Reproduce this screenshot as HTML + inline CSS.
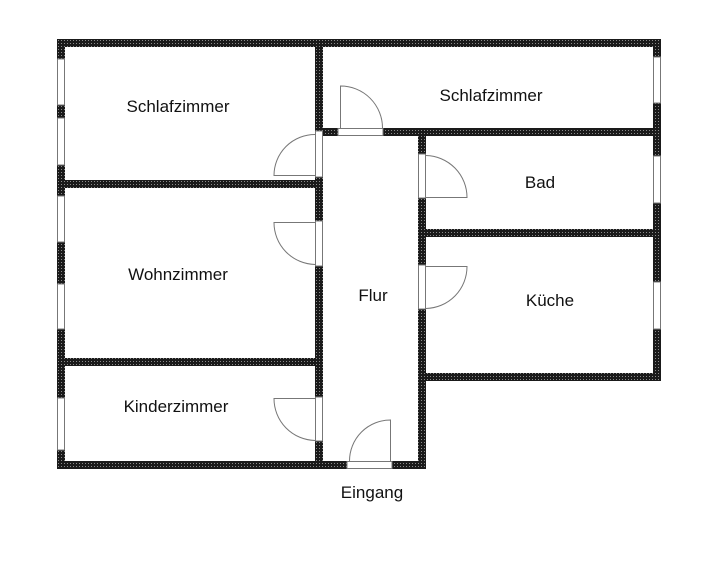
<!DOCTYPE html>
<html><head><meta charset="utf-8"><style>
html,body{margin:0;padding:0;background:#fff;}
svg{display:block;}
text{font-family:"Liberation Sans","DejaVu Sans",sans-serif;font-size:17px;fill:#111;text-anchor:middle;}
</style></head><body>
<svg width="707" height="584" viewBox="0 0 707 584" xmlns="http://www.w3.org/2000/svg">
<defs>
<pattern id="hp" width="3" height="3" patternUnits="userSpaceOnUse">
<rect width="3" height="3" fill="#1a1a1a"/>
<rect x="1" y="1" width="1" height="1" fill="#8a8a8a"/>
</pattern>
</defs>
<g fill="url(#hp)">
<rect x="57" y="39" width="604" height="8"/>
<rect x="57" y="39" width="8" height="430"/>
<rect x="57" y="461" width="369" height="8"/>
<rect x="653" y="39" width="8" height="342"/>
<rect x="418" y="373" width="243" height="8"/>
<rect x="418" y="128" width="8" height="341"/>
<rect x="315" y="39" width="8" height="430"/>
<rect x="315" y="128" width="346" height="8"/>
<rect x="418" y="229" width="243" height="8"/>
<rect x="57" y="180" width="266" height="8"/>
<rect x="57" y="358" width="266" height="8"/>
</g>
<g fill="#fff" stroke="#777" stroke-width="1">
<rect x="57.5" y="59" width="7" height="46"/>
<rect x="57.5" y="118" width="7" height="47"/>
<rect x="57.5" y="196" width="7" height="46"/>
<rect x="57.5" y="284" width="7" height="45"/>
<rect x="57.5" y="398" width="7" height="52"/>
<rect x="653.5" y="57" width="7" height="46"/>
<rect x="653.5" y="156" width="7" height="47"/>
<rect x="653.5" y="282" width="7" height="47"/>
<rect x="338" y="128.5" width="45" height="7"/>
<rect x="315.5" y="131" width="7" height="46"/>
<rect x="315.5" y="221" width="7" height="45"/>
<rect x="315.5" y="397" width="7" height="44"/>
<rect x="347" y="461.5" width="45" height="7"/>
<rect x="418.5" y="154" width="7" height="44"/>
<rect x="418.5" y="265" width="7" height="44"/>
</g>
<g fill="none" stroke="#777" stroke-width="1">
<path d="M340.5 128 V86 A42 42 0 0 1 382.5 128"/>
<path d="M315 175.5 H274 A41 41 0 0 1 315 134.5"/>
<path d="M315 222.5 H274 A42 42 0 0 0 315 264.5"/>
<path d="M315 398.5 H274 A42 42 0 0 0 315 440.5"/>
<path d="M390.5 461 V420 A41 41 0 0 0 349.5 461"/>
<path d="M426 197.5 H467 A42 42 0 0 0 426 155.5"/>
<path d="M426 266.5 H467 A42 42 0 0 1 426 308.5"/>
</g>
<text x="178" y="112">Schlafzimmer</text>
<text x="491" y="101">Schlafzimmer</text>
<text x="540" y="188">Bad</text>
<text x="178" y="280">Wohnzimmer</text>
<text x="373" y="301">Flur</text>
<text x="550" y="306">Küche</text>
<text x="176" y="412">Kinderzimmer</text>
<text x="372" y="498">Eingang</text>
</svg>
</body></html>
